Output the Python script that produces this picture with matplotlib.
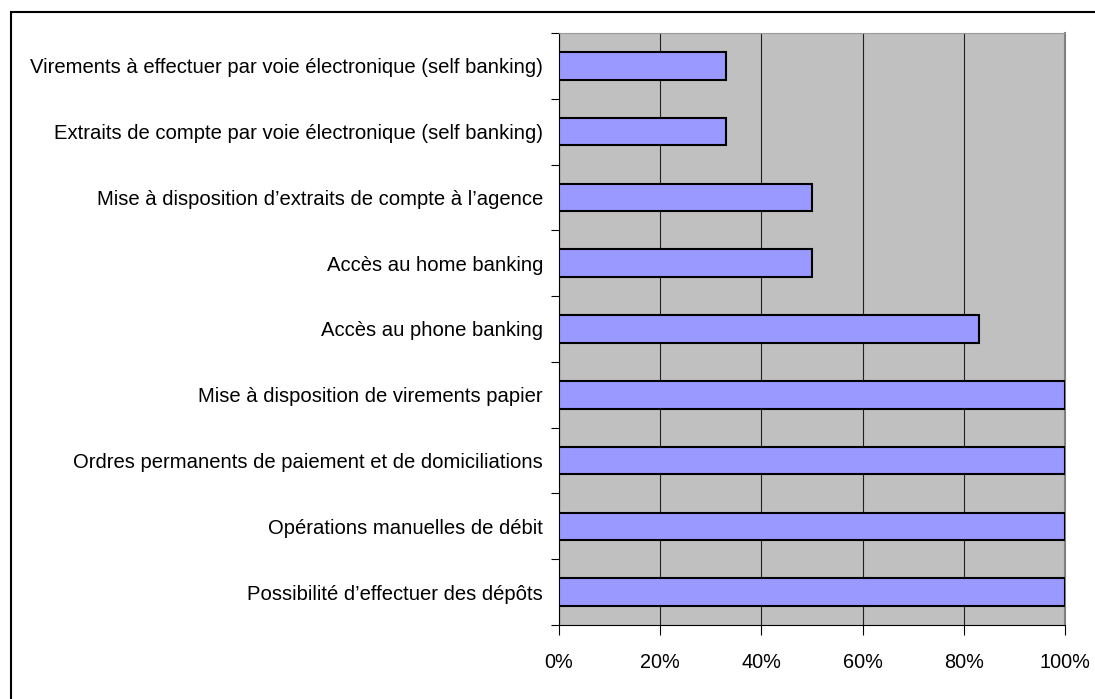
import matplotlib
matplotlib.use('Agg')
import matplotlib.pyplot as plt
from matplotlib.patches import Rectangle
import numpy as np

plt.rcParams['font.family'] = ['Liberation Sans', 'DejaVu Sans']

# services, top to bottom as in the chart
categories = [
    "Virements à effectuer par voie électronique (self banking)",
    "Extraits de compte par voie électronique (self banking)",
    "Mise à disposition d\u2019extraits de compte à l\u2019agence",
    "Accès au home banking",
    "Accès au phone banking",
    "Mise à disposition de virements papier",
    "Ordres permanents de paiement et de domiciliations",
    "Opérations manuelles de débit",
    "Possibilité d\u2019effectuer des dépôts",
]
values = [0.33, 0.33, 0.50, 0.50, 0.83, 1.00, 1.00, 1.00, 1.00]
xticks = [0, 0.2, 0.4, 0.6, 0.8, 1.0]
xlabels = ["0%", "20%", "40%", "60%", "80%", "100%"]

W, H = 1095, 699
fig = plt.figure(figsize=(W / 100, H / 100), dpi=100)
ax = fig.add_axes([559 / W, 1 - 625 / H, (1065 - 559) / W, (625 - 33) / H])
ax.set_facecolor('#C0C0C0')

y = np.arange(len(categories))
ax.barh(y, values, height=0.42, color='#9999FF', edgecolor='black', linewidth=1.5, zorder=3)

ax.set_xlim(0, 1)
ax.set_ylim(len(categories) - 0.5, -0.5)

ax.set_xticks(xticks)
ax.set_xticklabels(xlabels, fontsize=14.3)
ax.grid(axis='x', color='#202020', linewidth=0.8, zorder=1)
ax.tick_params(axis='x', length=7, width=0.8, direction='out', pad=13)

# category boundaries as major ticks, labels at centres via minor ticks
ax.set_yticks(np.arange(len(categories) + 1) - 0.5)
ax.set_yticklabels([])
ax.set_yticks(y, minor=True)
ax.set_yticklabels(categories, minor=True, fontsize=14.6)
ax.tick_params(axis='y', which='major', length=6, width=0.8, direction='out')
ax.tick_params(axis='y', which='minor', length=0, pad=11.5)

ax.spines['left'].set_color('black')
ax.spines['bottom'].set_color('black')
ax.spines['top'].set_color('#9a9a9a')
ax.spines['right'].set_color('#808080')
ax.spines['right'].set_linewidth(1.5)

# outer frame (runs off the right and bottom edges)
fig.patches.append(Rectangle((11 / W, -0.1), 1.2, 1 - 12 / H + 0.1, transform=fig.transFigure,
                             fill=False, edgecolor='black', linewidth=1.5))

fig.savefig('out.png', dpi=100)
